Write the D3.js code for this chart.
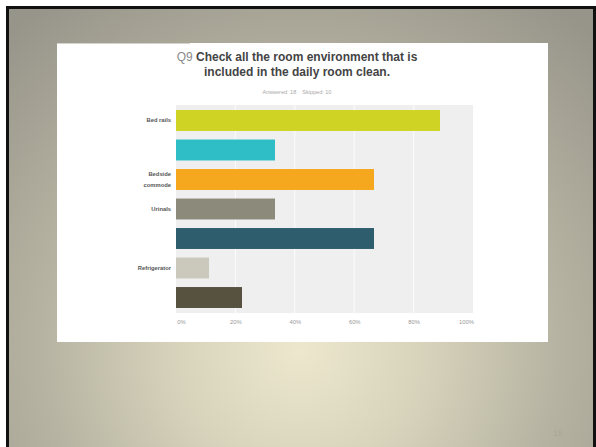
<!DOCTYPE html>
<html>
<head>
<meta charset="utf-8">
<script src="https://cdn.jsdelivr.net/npm/d3@7"></script>
<style>
  html, body { margin: 0; padding: 0; background: #fff; }
  svg { display: block; }
</style>
</head>
<body>
<svg id="slide" width="596" height="447"></svg>
<script>
// Survey question and answer options (only some options carry a visible label)
const questionNo = "Q9";
const titleLines = ["Check all the room environment that is", "included in the daily room clean."];
const answered = 18;
const skipped = 10;
const optionLabels = [["Bed rails"], [], ["Bedside", "commode"], ["Urinals"], [], ["Refrigerator"], []];
const responseCounts = [16, 6, 12, 6, 12, 2, 4];
const barColors = ["#cfd424", "#30bec6", "#f5a81e", "#8c8b7b", "#2e5d6d", "#cbc9bc", "#575240"];
const tickValues = [0, 0.2, 0.4, 0.6, 0.8, 1];
const slideNumber = "15";

const svg = d3.select("#slide");
const font = "'Liberation Sans', Arial, sans-serif";

// Slide background: warm radial wash with a dark frame line
const defs = svg.append("defs");
const grad = defs.append("radialGradient")
  .attr("id", "bg").attr("gradientUnits", "userSpaceOnUse")
  .attr("cx", 300).attr("cy", 350).attr("r", 430)
  .attr("fx", 300).attr("fy", 350);
grad.append("stop").attr("offset", "0%").attr("stop-color", "#ece7cd");
grad.append("stop").attr("offset", "28%").attr("stop-color", "#d8d4bc");
grad.append("stop").attr("offset", "60%").attr("stop-color", "#b6b3a2");
grad.append("stop").attr("offset", "100%").attr("stop-color", "#97958a");

svg.append("rect").attr("x", 6).attr("y", 6).attr("width", 590).attr("height", 441)
  .attr("fill", "url(#bg)");
svg.append("rect").attr("x", 6).attr("y", 6).attr("width", 3).attr("height", 441).attr("fill", "#111");
svg.append("rect").attr("x", 6).attr("y", 6).attr("width", 590).attr("height", 3).attr("fill", "#111");
svg.append("rect").attr("x", 593).attr("y", 6).attr("width", 3).attr("height", 441).attr("fill", "#111");

svg.append("text").attr("x", 558).attr("y", 436).attr("text-anchor", "middle")
  .attr("font-family", font).attr("font-size", 9).attr("fill", "#aaa898").text(slideNumber);

// White chart panel
svg.append("rect").attr("x", 57).attr("y", 43).attr("width", 491).attr("height", 299).attr("fill", "#fff");
svg.append("line").attr("x1", 57).attr("x2", 190).attr("y1", 43.5).attr("y2", 43.5)
  .attr("stroke", "#d4d4cc").attr("stroke-width", 1);

// Title
const title = svg.append("text").attr("text-anchor", "middle").attr("font-family", font)
  .attr("font-size", 12).attr("fill", "#444");
const l1 = title.append("tspan").attr("x", 297).attr("y", 61);
l1.append("tspan").attr("fill", "#8a8a8a").text(questionNo + " ");
l1.append("tspan").attr("font-weight", "bold").text(titleLines[0]);
title.append("tspan").attr("x", 297).attr("y", 76).attr("font-weight", "bold").text(titleLines[1]);

svg.append("text").attr("x", 297).attr("y", 94).attr("text-anchor", "middle")
  .attr("font-family", font).attr("font-size", 5.5).attr("fill", "#a8a8a8")
  .attr("xml:space", "preserve")
  .text(`Answered: ${answered}    Skipped: ${skipped}`);

// Scales
const x = d3.scaleLinear().domain([0, 1]).range([176, 473]);
const y = d3.scaleBand().domain(d3.range(responseCounts.length))
  .range([105, 313]).paddingInner(0.29).paddingOuter(0.17);

// Plot area and gridlines
svg.append("rect").attr("x", x(0)).attr("y", 105).attr("width", x(1) - x(0)).attr("height", 208)
  .attr("fill", "#efefef");
svg.append("g").selectAll("line").data(tickValues.slice(1, -1)).join("line")
  .attr("x1", d => x(d)).attr("x2", d => x(d)).attr("y1", 105).attr("y2", 313)
  .attr("stroke", "#fafafa").attr("stroke-width", 1.2);

// Bars
svg.append("g").selectAll("rect").data(responseCounts).join("rect")
  .attr("x", x(0)).attr("y", (d, i) => y(i))
  .attr("width", d => x(d / answered) - x(0)).attr("height", y.bandwidth())
  .attr("fill", (d, i) => barColors[i]);

// Category labels
const lab = svg.append("g").attr("font-family", font).attr("font-size", 5.8)
  .attr("font-weight", "bold").attr("fill", "#555").attr("text-anchor", "end");
optionLabels.forEach((lines, i) => {
  const cy = y(i) + y.bandwidth() / 2;
  lines.forEach((t, k) => {
    lab.append("text").attr("x", 171)
      .attr("y", cy + (k - (lines.length - 1) / 2) * 10.5 + 2)
      .text(t);
  });
});

// X axis
const axis = svg.append("g").attr("transform", "translate(0,322)")
  .call(d3.axisBottom(x).tickValues(tickValues).tickFormat(d3.format(".0%")).tickSize(0));
axis.select(".domain").remove();
axis.selectAll("text").attr("font-family", font).attr("font-size", 5.8).attr("fill", "#999")
  .attr("dy", "0.35em").attr("y", 0)
  .attr("dx", (d, i) => i === 0 ? 5 : (i === tickValues.length - 1 ? -7 : 0));
</script>
</body>
</html>
